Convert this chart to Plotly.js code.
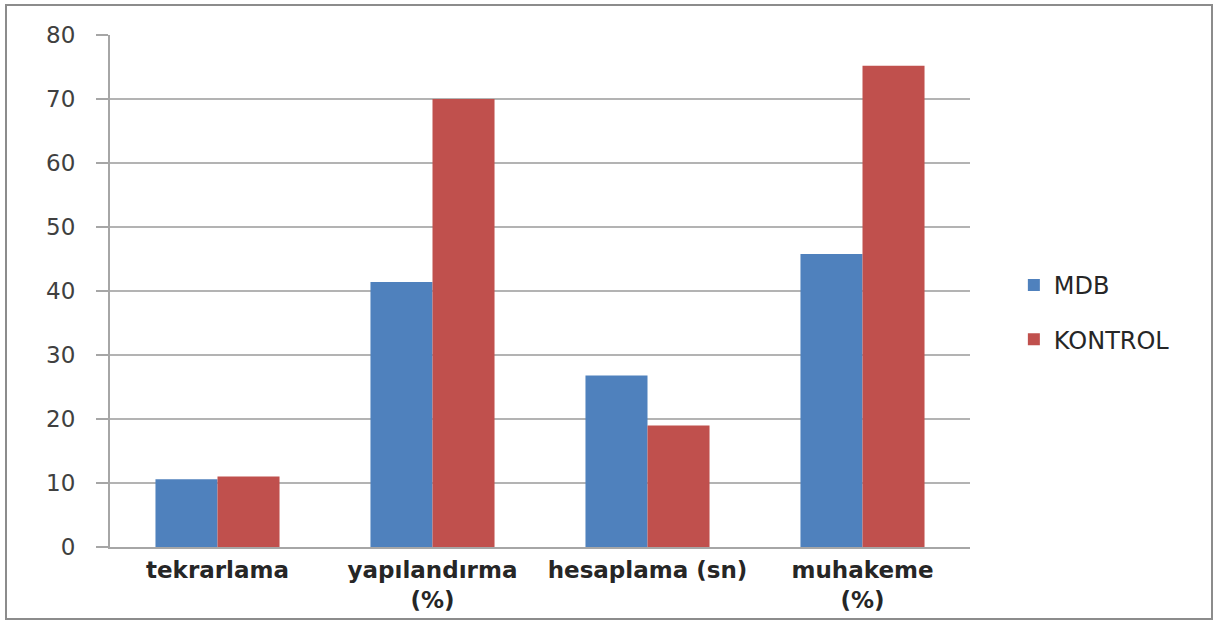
<!DOCTYPE html>
<html>
<head>
<meta charset="utf-8">
<script src="https://cdn.plot.ly/plotly-3.0.1.min.js"></script>
<style>
html,body{margin:0;padding:0;background:#fff;}
#wrap{position:relative;width:1218px;height:621px;overflow:hidden;}
#chart{width:1218px;height:621px;}
#frame{position:absolute;left:5px;top:4px;width:1208px;height:616px;border:2px solid #8c8c8c;pointer-events:none;box-sizing:border-box;}
</style>
</head>
<body>
<div id="wrap"><div id="chart"></div><div id="frame"></div></div>
<script>
var categories = ["tekrarlama", "yapılandırma<br>(%)", "hesaplama (sn)", "muhakeme<br>(%)"];
var seriesNames = ["MDB", "KONTROL"];
var mdbValues = [10.6, 41.4, 26.8, 45.8];
var kontrolValues = [11.0, 70.0, 19.0, 75.2];
var yTickValues = [0, 10, 20, 30, 40, 50, 60, 70, 80];

var traces = [
  {type: 'bar', name: seriesNames[0], x: categories, y: mdbValues,
   marker: {color: '#4F81BD'}, legendgroup: 'a', hoverinfo: 'y'},
  {type: 'bar', name: seriesNames[1], x: categories, y: kontrolValues,
   marker: {color: '#C0504D'}, legendgroup: 'b', hoverinfo: 'y'}
];

var layout = {
  width: 1218, height: 621,
  margin: {l: 110, r: 248, t: 35, b: 74},
  paper_bgcolor: '#ffffff', plot_bgcolor: '#ffffff',
  barmode: 'group', bargap: 0.423, bargroupgap: 0,
  font: {family: 'DejaVu Sans, sans-serif', color: '#404040'},
  xaxis: {
    type: 'category',
    showline: true, linecolor: '#a6a6a6', linewidth: 2,
    showgrid: false, zeroline: false,
    ticks: '', ticklen: 0,
    tickfont: {size: 23, color: '#262626', weight: 'bold', family: 'DejaVu Sans, sans-serif'},
    ticklabelstandoff: 1,
    fixedrange: true
  },
  yaxis: {
    range: [0, 80], tickvals: yTickValues,
    showline: true, linecolor: '#a6a6a6', linewidth: 2,
    showgrid: true, gridcolor: '#b3b3b3', gridwidth: 1.5,
    zeroline: false,
    ticks: 'outside', ticklen: 12, tickcolor: '#a6a6a6', tickwidth: 1.5,
    tickfont: {size: 23, color: '#404040'},
    ticklabelstandoff: 16,
    fixedrange: true
  },
  showlegend: true,
  legend: {
    x: 1.051, y: 0.458, xanchor: 'left', yanchor: 'middle',
    font: {size: 24, color: '#262626'},
    tracegroupgap: 20, traceorder: 'grouped',
    bgcolor: 'rgba(0,0,0,0)'
  }
};

Plotly.newPlot('chart', traces, layout, {displayModeBar: false, staticPlot: true});
</script>
</body>
</html>
